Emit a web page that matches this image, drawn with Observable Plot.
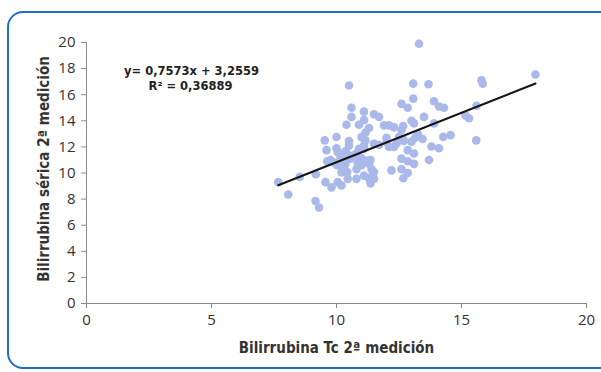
<!DOCTYPE html>
<html>
<head>
<meta charset="utf-8">
<script src="https://cdn.jsdelivr.net/npm/d3@7"></script>
<script src="https://cdn.jsdelivr.net/npm/@observablehq/plot@0.6"></script>
<style>
  html, body { margin: 0; padding: 0; background: #fff; }
  #wrap { position: relative; width: 601px; height: 372px; overflow: hidden; }
  #frame { position: absolute; left: 7px; top: 11px; width: 640px; height: 358px;
           border: 2px solid #1f6fc8; border-radius: 16px; box-sizing: border-box; }
  #chart { position: absolute; left: 0; top: 0; }
</style>
</head>
<body>
<div id="wrap"><div id="frame"></div><div id="chart"></div></div>
<script>
// Bilirrubina Tc 2ª medición (x) vs Bilirrubina sérica 2ª medición (y)
const tcValues = [
  13.3, 10.5, 17.96, 15.8, 15.85, 13.07, 13.68, 13.07, 12.6, 12.85,
  13.9, 14.1, 14.3, 13.5, 13.0, 13.1, 12.67, 13.9, 15.16, 15.3,
  15.6, 12.6, 13.25, 13.44, 14.27, 14.56, 15.59, 13.0, 12.67, 13.8,
  14.1, 12.85, 13.1, 13.7, 12.6, 12.85, 13.1, 12.6, 12.85, 12.67,
  7.67, 8.07, 8.53, 9.16, 9.3, 9.17, 9.53, 10.0, 9.6, 10.0,
  10.05, 9.63, 9.56, 9.8, 10.05, 10.2, 10.45, 10.2, 10.8, 11.1,
  11.3, 11.5, 11.36, 12.2, 10.6, 11.1, 11.5, 11.7, 10.6, 11.1,
  10.9, 10.4, 11.3, 11.9, 12.1, 12.3, 10.5, 10.5, 11.16, 11.0,
  11.16, 11.1, 11.1, 11.5, 11.7, 12.0, 12.0, 12.1, 12.3, 12.4,
  12.5, 12.7, 13.15, 10.36, 10.45, 9.76, 9.9, 10.03, 10.16, 10.27,
  10.36, 10.56, 10.7, 10.8, 10.85, 11.0, 11.2, 11.36, 10.3, 10.43,
  10.8, 11.0, 11.3, 11.4, 11.5, 11.43, 10.9
];
const sericaValues = [
  19.9, 16.7, 17.55, 17.1, 16.85, 16.85, 16.8, 15.7, 15.3, 15.0,
  15.5, 15.1, 15.0, 14.3, 14.0, 13.8, 13.6, 13.8, 14.4, 14.2,
  15.15, 13.3, 13.0, 12.6, 12.77, 12.9, 12.5, 12.4, 12.57, 12.03,
  11.9, 11.75, 11.5, 11.0, 11.1, 10.9, 10.7, 10.3, 10.0, 9.6,
  9.3, 8.35, 9.7, 7.85, 7.35, 9.9, 12.5, 12.76, 11.75, 11.9,
  11.6, 10.9, 9.3, 8.9, 9.3, 9.05, 9.55, 10.05, 9.55, 9.8,
  9.6, 9.55, 9.2, 10.2, 15.0, 14.7, 14.5, 14.3, 14.3, 14.05,
  13.7, 13.7, 13.45, 13.65, 13.65, 13.5, 12.45, 12.1, 13.1, 12.75,
  12.5, 12.1, 11.85, 12.25, 12.15, 12.7, 12.35, 12.0, 12.0, 12.25,
  12.75, 12.45, 12.7, 11.67, 11.4, 11.0, 10.8, 10.6, 11.2, 10.95,
  10.7, 11.1, 11.35, 11.5, 10.8, 11.15, 10.95, 11.0, 10.45, 10.07,
  10.3, 10.6, 10.7, 10.3, 10.07, 9.8, 11.85
];
const slope = 0.7573;
const intercept = 3.2559;
const equationLabel = "y= 0,7573x + 3,2559";
const r2Label = "R² = 0,36889";
const xTicks = [0, 5, 10, 15, 20];
const yTicks = [0, 2, 4, 6, 8, 10, 12, 14, 16, 18, 20];
const xTitle = "Bilirrubina Tc 2ª medición";
const yTitle = "Bilirrubina sérica 2ª medición";

const points = tcValues.map((x, i) => ({x, y: sericaValues[i]}));
const [xMin, xMax] = d3.extent(tcValues);
const trend = [xMin, xMax].map(x => ({x, y: slope * x + intercept}));

const tickFont = "'Open Sans', Lato, sans-serif";
const titleFont = "'Liberation Sans Narrow', 'DejaVu Sans Condensed', 'Open Sans', sans-serif";
const eqFont = "'DejaVu Sans', sans-serif";

const chart = Plot.plot({
  width: 601,
  height: 372,
  marginLeft: 86,
  marginRight: 15,
  marginTop: 42,
  marginBottom: 69,
  style: {background: "transparent", overflow: "visible"},
  x: {domain: [0, 20]},
  y: {domain: [0, 20]},
  marks: [
    Plot.axisX({ticks: xTicks, tickSize: 5, tickPadding: 6, stroke: "#8a8a8a", fill: "#333",
                fontSize: 15, fontFamily: tickFont, label: null}),
    Plot.axisY({ticks: yTicks, tickSize: 5, tickPadding: 6, stroke: "#8a8a8a", fill: "#333",
                fontSize: 15, fontFamily: tickFont, label: null}),
    Plot.ruleX([0], {stroke: "#8a8a8a"}),
    Plot.ruleY([0], {stroke: "#8a8a8a"}),
    Plot.dot(points, {x: "x", y: "y", r: 4.3, fill: "#aab9ea", stroke: "none"}),
    Plot.line(trend, {x: "x", y: "y", stroke: "#151515", strokeWidth: 2}),
    Plot.text([equationLabel], {frameAnchor: "top-left", dx: 105, dy: 24, text: d => d,
               textAnchor: "middle", fontSize: 11.5, fontWeight: "bold", fill: "#222", fontFamily: eqFont}),
    Plot.text([r2Label], {frameAnchor: "top-left", dx: 104, dy: 39, text: d => d,
               textAnchor: "middle", fontSize: 11.5, fontWeight: "bold", fill: "#222", fontFamily: eqFont}),
    Plot.text([xTitle], {frameAnchor: "bottom", dy: 49, text: d => d, fontSize: 15, fontWeight: "bold",
               textAnchor: "middle", fill: "#333", fontFamily: titleFont}),
    Plot.text([yTitle], {frameAnchor: "left", dx: -42, dy: -4, rotate: -90, text: d => d, fontSize: 15,
               textAnchor: "middle", fontWeight: "bold", fill: "#333", fontFamily: titleFont})
  ]
});
document.getElementById("chart").appendChild(chart);
</script>
</body>
</html>
